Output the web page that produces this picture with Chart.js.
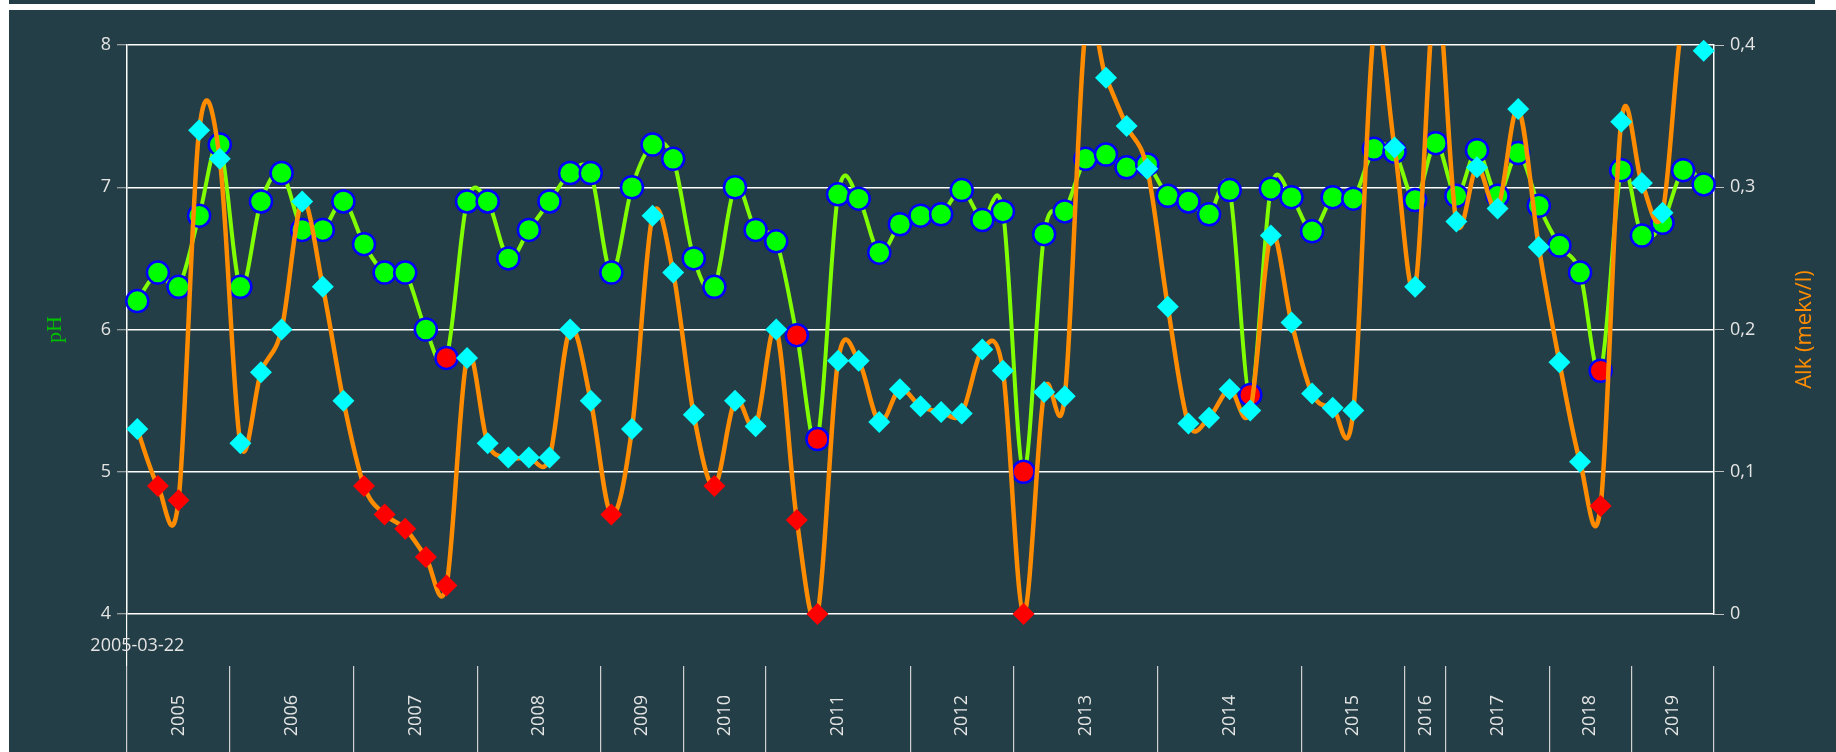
<!DOCTYPE html>
<html>
<head>
<meta charset="utf-8">
<title>pH och alkalinitet</title>
<script src="https://cdn.jsdelivr.net/npm/chart.js@4.4.1/dist/chart.umd.min.js"></script>
<style>
  html, body { margin: 0; padding: 0; background: #fff; overflow: hidden; }
  #topStrip { position: absolute; left: 9px; top: 0; width: 1806px; height: 4px; background: #233e46; }
  #box { position: absolute; left: 9px; top: 10px; width: 1827px; height: 742px; background: #233e46; }
  canvas { display: block; }
</style>
</head>
<body>
<div id="topStrip"></div>
<div id="box"><canvas id="myChart" width="1827" height="742"></canvas></div>
<script>
var firstDate = '2005-03-22';
var years = ['2005', '2006', '2007', '2008', '2009', '2010', '2011', '2012',
             '2013', '2014', '2015', '2016', '2017', '2018', '2019'];
var samplesPerYear = [5, 6, 6, 6, 4, 4, 7, 5, 7, 7, 5, 2, 5, 4, 4];

var phValues = [
  6.20, 6.40, 6.30, 6.80, 7.30,
  6.30, 6.90, 7.10, 6.70, 6.70, 6.90,
  6.60, 6.40, 6.40, 6.00, 5.80, 6.90,
  6.90, 6.50, 6.70, 6.90, 7.10, 7.10,
  6.40, 7.00, 7.30, 7.20,
  6.50, 6.30, 7.00, 6.70,
  6.62, 5.96, 5.23, 6.95, 6.92, 6.54, 6.74,
  6.80, 6.81, 6.98, 6.77, 6.83,
  5.00, 6.67, 6.83, 7.20, 7.23, 7.14, 7.16,
  6.94, 6.90, 6.81, 6.98, 5.54, 6.99, 6.93,
  6.69, 6.93, 6.92, 7.27, 7.25,
  6.91, 7.31,
  6.94, 7.26, 6.94, 7.24, 6.87,
  6.59, 6.40, 5.71, 7.12,
  6.66, 6.75, 7.12, 7.02
];

var alkValues = [
  0.130, 0.090, 0.080, 0.340, 0.320,
  0.120, 0.170, 0.200, 0.290, 0.230, 0.150,
  0.090, 0.070, 0.060, 0.040, 0.020, 0.180,
  0.120, 0.110, 0.110, 0.110, 0.200, 0.150,
  0.070, 0.130, 0.280, 0.240,
  0.140, 0.090, 0.150, 0.132,
  0.200, 0.066, 0.000, 0.178, 0.178, 0.135, 0.158,
  0.146, 0.142, 0.141, 0.186, 0.171,
  0.000, 0.156, 0.153, 0.410, 0.377, 0.343, 0.313,
  0.216, 0.134, 0.138, 0.158, 0.143, 0.266, 0.205,
  0.155, 0.145, 0.143, 0.410, 0.328,
  0.230, 0.440,
  0.276, 0.314, 0.285, 0.355, 0.258,
  0.177, 0.107, 0.076, 0.346,
  0.303, 0.282, 0.420, 0.396
];

var phLimit = 6;     // pH under this -> red circle
var alkLimit = 0.1;  // alk under this -> red diamond
var alkMax = 0.4;

// one category per sample, labelled with its year
var labels = [];
var yearTickValues = [0];
var boundaryAt = { 0: true };
var yearAt = {};
var pos = 0;
samplesPerYear.forEach(function (n, k) {
  for (var j = 0; j < n; j++) labels.push(years[k]);
  yearAt[pos + n / 2] = years[k];
  yearTickValues.push(pos + n / 2);
  pos += n;
  boundaryAt[pos] = true;
  yearTickValues.push(pos);
});

// Excel style smoothing: control points at 1/6 of the neighbour chord
var excelSmooth = {
  id: 'excelSmooth',
  beforeDatasetDraw: function (chart, args) {
    var meta = args.meta;
    if (!meta.dataset || !meta.dataset.updateControlPoints) return;
    meta.dataset.updateControlPoints(chart.chartArea, meta.iScale.axis);
    var pts = meta.data;
    for (var i = 0; i < pts.length; i++) {
      var prev = pts[Math.max(i - 1, 0)];
      var next = pts[Math.min(i + 1, pts.length - 1)];
      var dx = (next.x - prev.x) / 6;
      var dy = (next.y - prev.y) / 6;
      pts[i].cp1x = pts[i].x - dx;
      pts[i].cp1y = pts[i].y - dy;
      pts[i].cp2x = pts[i].x + dx;
      pts[i].cp2y = pts[i].y + dy;
    }
  }
};

// right axis title, reading bottom to top like the left one
var alkTitle = {
  id: 'alkTitle',
  afterDraw: function (chart) {
    var s = chart.scales.y1;
    var c = chart.ctx;
    c.save();
    c.translate(s.left + 91, (s.top + s.bottom) / 2);
    c.rotate(-Math.PI / 2);
    c.fillStyle = '#ff8c00';
    c.font = "22px 'Open Sans'";
    c.textAlign = 'center';
    c.textBaseline = 'middle';
    c.fillText('Alk (mekv/l)', 0, 0);
    c.restore();
  }
};

Chart.defaults.font.family = "'Open Sans', sans-serif";
Chart.defaults.font.size = 18;
Chart.defaults.color = '#e4e4e4';

var ctx = document.getElementById('myChart');

var myChart = new Chart(ctx, {
  type: 'line',
  data: {
    labels: labels,
    datasets: [
      {
        label: 'Alk markers',
        data: alkValues,
        xAxisID: 'x',
        yAxisID: 'y1',
        showLine: false,
        clip: false,
        pointStyle: 'rectRot',
        pointRadius: function (c) { return c.raw > alkMax ? 0 : 11; },
        pointBorderWidth: 0,
        pointBackgroundColor: function (c) { return c.raw < alkLimit ? '#ff0000' : '#00ffff'; }
      },
      {
        label: 'Alk',
        data: alkValues,
        xAxisID: 'x',
        yAxisID: 'y1',
        borderColor: '#ff8c00',
        borderWidth: 4.5,
        tension: 0.4,
        pointRadius: 0
      },
      {
        label: 'pH',
        data: phValues,
        xAxisID: 'x',
        yAxisID: 'y',
        borderColor: '#80ff00',
        borderWidth: 4,
        tension: 0.4,
        pointRadius: 11,
        pointBorderWidth: 2.5,
        pointBorderColor: '#0000ff',
        pointBackgroundColor: function (c) { return c.raw < phLimit ? '#ff0000' : '#00ff00'; }
      }
    ]
  },
  options: {
    responsive: false,
    animation: false,
    events: [],
    layout: { padding: { top: 35, left: 0, right: 0, bottom: 0 } },
    elements: { line: { capBezierPoints: false } },
    plugins: {
      legend: { display: false },
      tooltip: { enabled: false }
    },
    scales: {
      x: {
        type: 'category',
        position: 'bottom',
        offset: true,
        weight: 0,
        grid: {
          offset: true,
          drawOnChartArea: false,
          drawTicks: true,
          tickLength: 52,
          lineWidth: 1.2,
          color: function (c) { return c.index === 0 ? '#ffffff' : 'rgba(0,0,0,0)'; }
        },
        border: { display: false },
        ticks: {
          autoSkip: false,
          minRotation: 0,
          maxRotation: 0,
          padding: -31,
          callback: function (v, i) { return i === 0 ? firstDate : ''; }
        },
        afterFit: function (s) { s.height = 52; }
      },
      xYears: {
        type: 'linear',
        position: 'bottom',
        min: 0,
        max: phValues.length,
        weight: 1,
        afterBuildTicks: function (s) {
          s.ticks = yearTickValues.map(function (v) { return { value: v }; });
        },
        grid: {
          drawOnChartArea: false,
          drawTicks: true,
          tickLength: 86,
          lineWidth: 1.2,
          color: function (c) {
            return (c.tick && boundaryAt[c.tick.value]) ? '#d0d0d0' : 'rgba(0,0,0,0)';
          }
        },
        border: { display: false },
        ticks: {
          autoSkip: false,
          minRotation: 90,
          maxRotation: 90,
          padding: -57,
          callback: function (v) { return yearAt[v] || ''; }
        },
        afterFit: function (s) { s.height = 86; }
      },
      y: {
        position: 'left',
        min: 4,
        max: 8,
        ticks: { stepSize: 1, padding: 6 },
        grid: { color: '#ffffff', lineWidth: 1.5, tickLength: 10, tickColor: '#c0c0c0', tickWidth: 1 },
        border: { display: true, color: '#ffffff', width: 1.5 },
        title: {
          display: true,
          text: 'pH',
          color: '#00c000',
          font: { family: "'Liberation Serif', serif", size: 22 },
          padding: { top: 33, bottom: 0 }
        },
        afterFit: function (s) { s.width = 118; }
      },
      y1: {
        position: 'right',
        min: 0,
        max: alkMax,
        ticks: {
          stepSize: 0.1,
          padding: 6,
          callback: function (v) { return v === 0 ? '0' : v.toFixed(1).replace('.', ','); }
        },
        grid: { drawOnChartArea: false, tickLength: 10, color: '#c0c0c0', lineWidth: 1 },
        border: { display: true, color: '#ffffff', width: 1.5 },
        afterFit: function (s) { s.width = 122; }
      }
    }
  },
  plugins: [excelSmooth, alkTitle]
});
</script>
</body>
</html>
